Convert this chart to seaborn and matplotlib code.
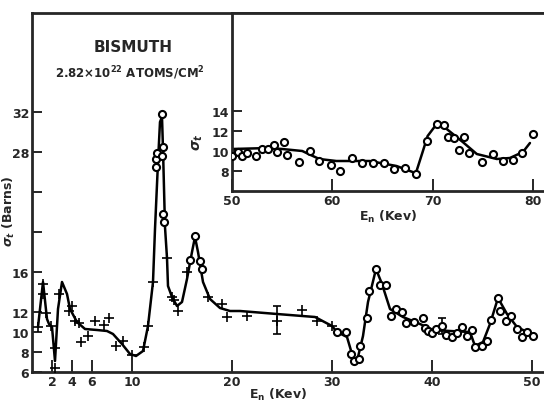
import pandas as pd
import seaborn as sns
import matplotlib.pyplot as plt

# main panel: smooth curve through the data
curve_e = [0.6, 1.1, 1.5, 1.7, 2.0, 2.3, 2.6, 3.0, 3.5, 3.8, 4.5, 5.3, 6.5, 7.5, 8.1,
           9.0, 9.8, 10.4, 11.1, 11.6, 12.1, 12.3, 12.6, 12.8, 13.0, 13.1, 13.3,
           13.5, 13.6, 14.0, 14.5, 15.0, 15.5, 16.0, 16.3, 16.6, 17.1, 17.8, 18.8,
           19.8, 20.8, 24.5, 28.3, 30.0, 30.5, 31.5, 32.0, 32.3, 32.6, 33.1, 33.6,
           34.4, 35.0, 35.8, 37.1, 38.8, 40.1, 41.8, 43.8, 44.3, 45.1, 45.8, 46.6,
           47.5, 48.5, 49.5, 50.1]
curve_s = [10.5, 15.0, 11.3, 10.8, 10.5, 7.1, 12.3, 15.0, 13.8, 12.3, 11.0, 10.3, 10.2,
           10.1, 9.8, 8.8, 7.8, 7.6, 8.1, 10.6, 15.0, 20.3, 27.0, 31.0, 31.5, 28.3,
           20.5, 17.4, 14.6, 13.5, 12.6, 13.0, 15.3, 18.0, 19.5, 18.0, 15.0,
           13.3, 12.4, 12.1, 12.1, 11.8, 11.5, 10.6, 10.0, 9.5, 7.8, 7.1, 7.5, 9.6,
           13.0, 16.3, 14.8, 12.3, 11.5, 10.8, 10.2, 10.1, 10.0, 8.6, 9.0, 10.8, 13.4,
           11.8, 10.5, 10.0, 9.6]

# main panel: "+" points
cross_e = [0.6, 1.1, 1.1, 1.4, 1.9, 2.3, 2.3, 2.7, 3.7, 4.0, 4.3, 4.7, 4.9, 5.6, 6.3,
           7.2, 7.7, 8.4, 9.1, 10.0, 11.2, 11.6, 12.1, 13.5, 14.0, 14.2, 14.6, 15.5,
           17.6, 19.0, 19.5, 21.5, 24.5, 27.0, 28.5, 30.0]
cross_s = [10.5, 13.8, 14.8, 11.9, 10.6, 8.4, 6.4, 13.8, 12.1, 12.6, 11.1, 10.9, 9.0,
           9.6, 11.1, 10.7, 11.4, 8.6, 9.1, 7.7, 8.5, 10.6, 15.0, 17.4, 13.5, 13.2,
           12.1, 16.0, 13.5, 12.8, 11.5, 11.6, 11.1, 12.2, 11.1, 10.6]

# main panel: open circles
circ_e = [12.4, 12.4, 12.5, 12.97, 13.1, 13.0, 13.1, 13.2, 15.8, 16.3, 16.8, 17.0,
          30.5, 31.4, 31.9, 32.2, 32.7, 32.8, 33.5, 33.7, 34.4, 34.8, 35.4, 35.9,
          36.4, 37.0, 37.4, 38.2, 39.1, 39.3, 39.6, 40.0, 40.4, 41.0, 41.4, 42.0,
          42.5, 43.0, 43.5, 44.0, 44.3, 45.0, 45.5, 45.9, 46.6, 46.8, 47.4, 47.9,
          48.5, 49.0, 49.5, 50.1]
circ_s = [26.5, 27.3, 27.9, 31.8, 28.5, 27.6, 21.8, 21.0, 17.2, 19.6, 17.1, 16.3,
          10.0, 10.0, 7.8, 7.1, 7.3, 8.6, 11.4, 14.1, 16.3, 14.7, 14.7, 11.6, 12.3,
          12.0, 10.9, 11.0, 11.4, 10.4, 10.1, 9.9, 10.3, 10.6, 9.7, 9.5, 9.9, 10.5,
          9.6, 10.2, 8.5, 8.6, 9.1, 11.2, 13.4, 12.1, 11.1, 11.6, 10.3, 9.5, 10.0, 9.6]

# error bars
err_e = [24.5, 41.0]
err_s = [11.2, 10.6]
err_d = [1.4, 0.8]

# inset (50-80 keV)
inset_curve_e = [50.0, 53.7, 55.0, 57.0, 58.7, 60.4, 63.7, 66.4, 68.0, 68.3, 69.0, 69.5,
                 70.4, 71.4, 73.0, 74.4, 76.4, 77.7, 79.0, 79.7]
inset_curve_s = [10.2, 10.3, 10.2, 10.0, 9.2, 9.0, 9.0, 8.5, 7.9, 7.7, 9.9, 11.5,
                 12.7, 12.2, 10.9, 9.7, 9.2, 9.3, 9.9, 10.8]
inset_e = [50.0, 50.6, 51.0, 51.5, 52.4, 53.0, 53.6, 54.2, 54.5, 55.2, 55.5, 56.7,
           57.8, 58.7, 59.9, 60.8, 62.0, 63.0, 64.1, 65.2, 66.1, 67.2, 68.3, 69.4,
           70.4, 71.1, 71.5, 72.1, 72.6, 73.1, 73.6, 74.9, 76.0, 77.0, 78.0, 78.9, 80.0]
inset_s = [9.5, 9.9, 9.5, 9.8, 9.5, 10.2, 10.2, 10.6, 9.9, 10.9, 9.6, 8.9, 10.0, 9.0,
           8.6, 8.0, 9.3, 8.8, 8.8, 8.8, 8.2, 8.3, 7.7, 11.0, 12.7, 12.6, 11.4, 11.3,
           10.1, 11.4, 9.8, 8.9, 9.7, 9.0, 9.1, 9.8, 11.7]

sns.set_style("ticks")
plt.rcParams['font.family'] = ['DejaVu Sans']
plt.rcParams['font.weight'] = 'bold'

fig = plt.figure(figsize=(5.44, 4.02), dpi=100)
ax = fig.add_axes([32 / 544, 29 / 402, 512 / 544, 359 / 402])
ins = fig.add_axes([232 / 544, 210 / 402, 312 / 544, 178 / 402])

curve = pd.DataFrame({'E': curve_e, 'S': curve_s})
sns.lineplot(data=curve, x='E', y='S', sort=False, color='black', lw=1.8, ax=ax)
sns.scatterplot(x=cross_e, y=cross_s, marker='+', s=45, color='black',
                linewidth=1.2, ax=ax, zorder=3)
sns.scatterplot(x=circ_e, y=circ_s, marker='o', s=26, facecolor='white',
                edgecolor='black', linewidth=1.5, ax=ax, zorder=4)
ax.errorbar(err_e, err_s, yerr=err_d, fmt='none', ecolor='black', elinewidth=1.2,
            capsize=3, capthick=1.2)

ax.set_xlim(0, 51.2)
ax.set_ylim(6, 41.9)
ax.set_xticks([2, 4, 6, 10, 20, 30, 40, 50])
ax.set_yticks([6, 8, 10, 12, 16, 20, 24, 28, 32])
ax.set_yticklabels(['6', '8', '10', '12', '16', '', '', '28', '32'])
ax.tick_params(direction='in', length=7, width=1.4, labelsize=9, pad=2)
ax.tick_params(axis='x', length=9)
for s in ['left', 'bottom', 'top']:
    ax.spines[s].set_linewidth(2)
ax.spines['right'].set_visible(False)
ax.set_xlabel(r'E$_\mathbf{n}$ (Kev)', fontsize=9, fontweight='bold', labelpad=1)
ax.xaxis.set_label_coords(0.48, -0.04)
ax.set_ylabel(r'$\sigma_t$ (Barns)', fontsize=9, fontweight='bold')
ax.yaxis.set_label_coords(-0.03, 0.45)

fig.text(133 / 544, 1 - 47 / 402, 'BISMUTH', ha='center', va='center',
         fontsize=11, fontweight='bold')
fig.text(130 / 544, 1 - 73 / 402, r'2.82$\times$10$^{22}$ ATOMS/CM$^2$',
         ha='center', va='center', fontsize=8.5, fontweight='bold')

inset_curve = pd.DataFrame({'E': inset_curve_e, 'S': inset_curve_s})
sns.lineplot(data=inset_curve, x='E', y='S', sort=False, color='black', lw=1.8, ax=ins)
sns.scatterplot(x=inset_e, y=inset_s, marker='o', s=26, facecolor='white',
                edgecolor='black', linewidth=1.5, ax=ins, zorder=4)
ins.set_xlim(50, 81.1)
ins.set_ylim(6, 23.8)
ins.set_xticks([50, 60, 70, 80])
ins.set_yticks([8, 10, 12, 14])
ins.tick_params(direction='in', length=7, width=1.4, labelsize=9, pad=2)
ins.tick_params(axis='x', length=9)
for s in ['left', 'bottom', 'top']:
    ins.spines[s].set_linewidth(2)
ins.spines['right'].set_visible(False)
ins.set_xlabel(r'E$_\mathbf{n}$ (Kev)', fontsize=9, fontweight='bold', labelpad=1)
ins.set_ylabel(r'$\sigma_t$', fontsize=10, fontweight='bold', labelpad=1)
ins.yaxis.set_label_coords(-0.085, 0.28)

fig.savefig('out.png', dpi=100)
